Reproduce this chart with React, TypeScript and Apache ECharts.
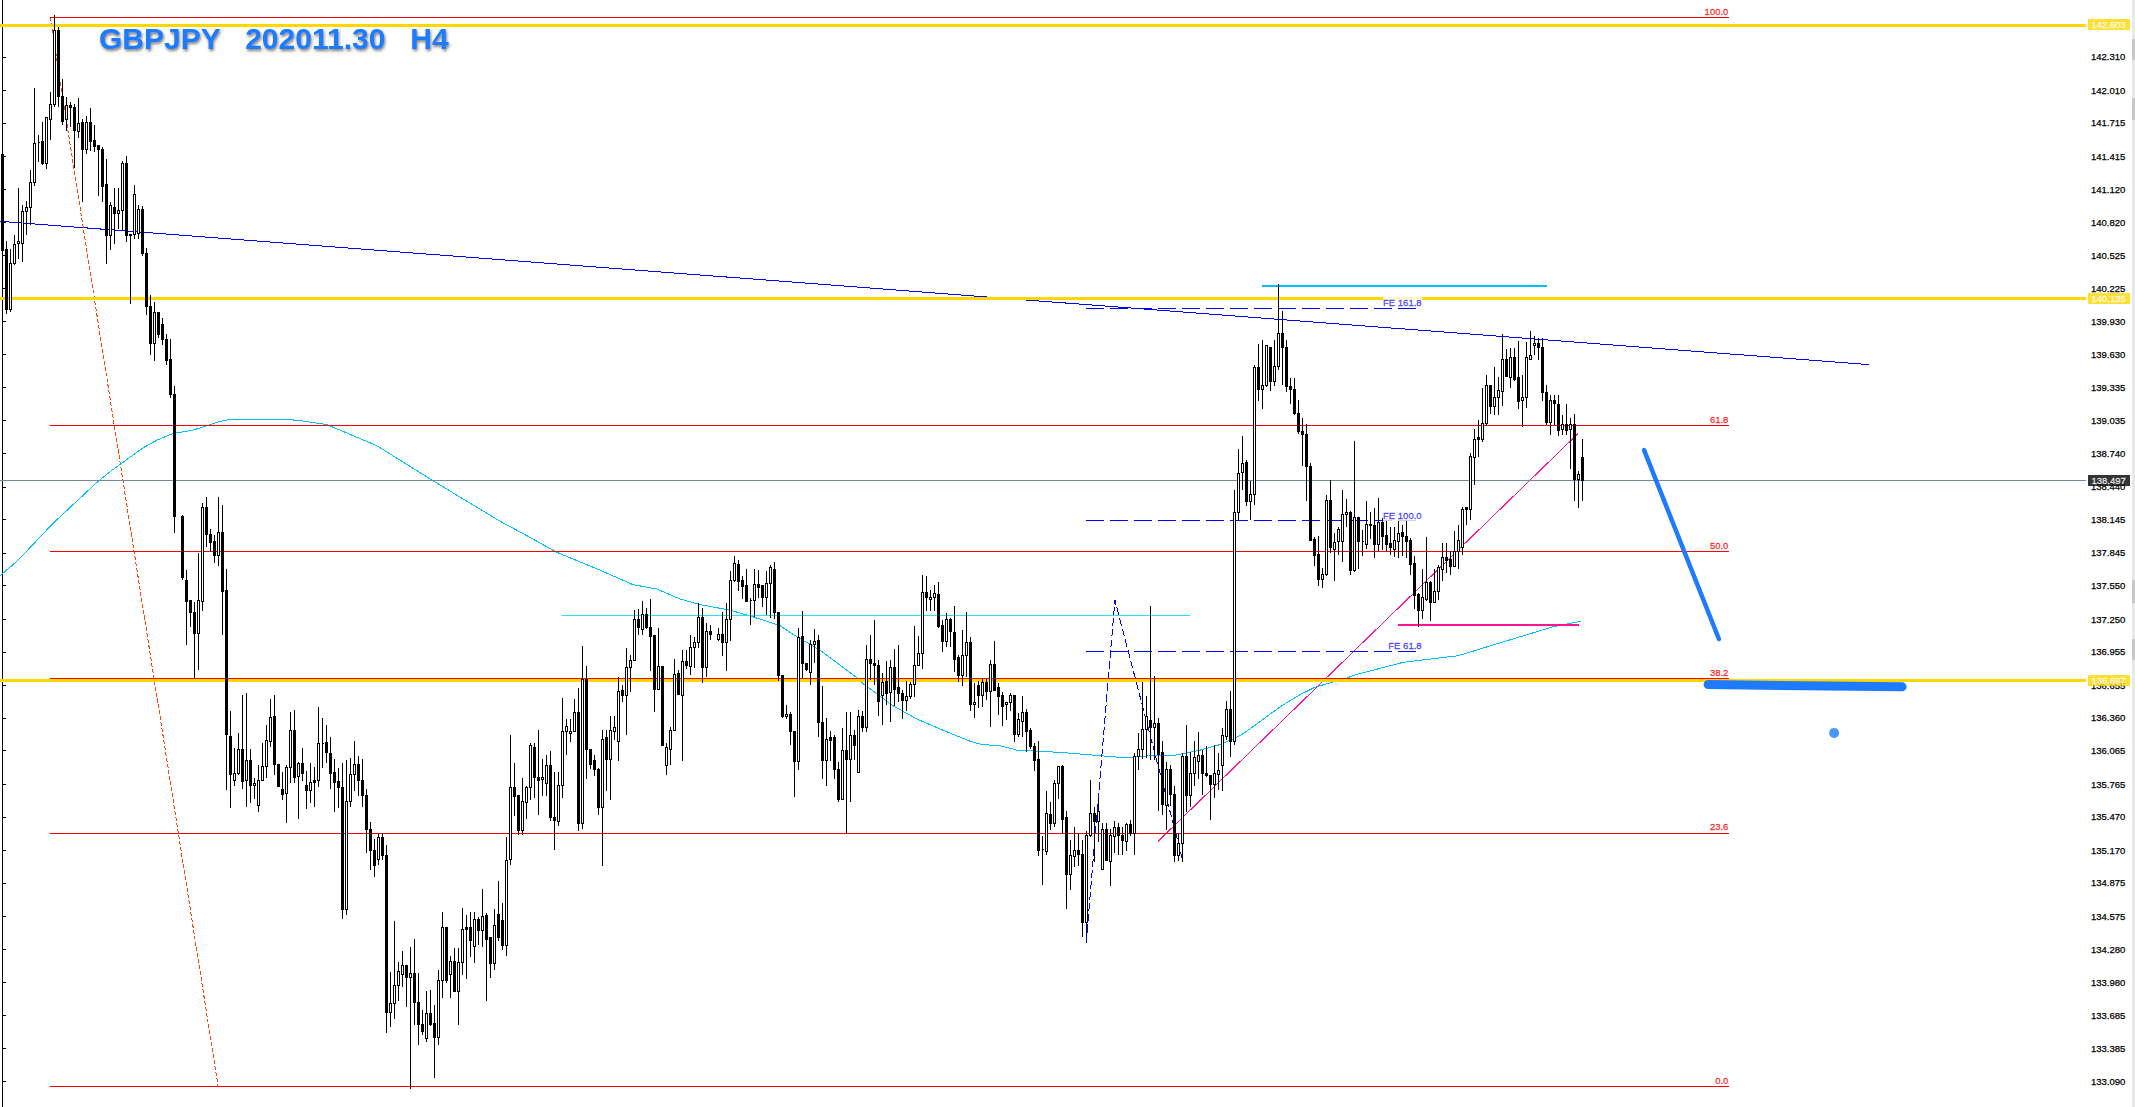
import React, { useEffect, useRef } from "react";
import * as echarts from "echarts";

type Bar = [number, number, number, number] | null; // open, close, low, high

const barsA: Bar[] = [
[141.43,140.57,140.53,141.47],[140.58,140.04,140.00,140.65],[140.04,140.45,140.01,140.58],[140.45,140.62,140.44,140.71],[140.63,140.65,140.49,141.13],
[140.63,140.92,140.46,140.98],[140.92,140.95,140.71,141.01],[140.95,141.18,140.80,141.29],[141.18,141.53,141.15,142.03],[141.54,141.54,141.36,141.61],
[141.55,141.35,141.34,141.72],[141.35,141.76,141.30,141.77],[141.75,141.88,141.56,141.99],[141.88,142.55,141.86,142.69],[142.55,141.95,141.86,142.58],
[141.95,141.73,141.70,142.11],[141.75,141.87,141.64,141.95],[141.87,141.85,141.68,141.90],[141.85,141.65,141.31,141.89],[141.64,141.71,141.58,141.94],
[141.72,141.48,141.00,141.75],[141.48,141.72,141.44,141.78],[141.72,141.55,141.46,141.85],[141.56,141.50,141.45,141.70],[141.51,141.48,141.06,141.52],
[141.48,141.14,141.00,141.50],[141.16,140.70,140.45,141.39],[140.70,140.97,140.57,141.00],[140.95,140.90,140.63,141.13],[140.90,140.93,140.76,141.13],
[140.93,141.35,140.75,141.37],[141.35,140.70,140.64,141.42],[140.71,140.70,140.09,140.71],[140.71,141.07,140.67,141.16],[140.72,140.94,140.67,140.98],
[140.94,140.54,140.52,140.97],[140.54,140.06,139.99,140.59],[140.06,139.73,139.63,140.17],[139.73,140.01,139.57,140.10],[140.01,139.81,139.78,140.01],
[139.90,139.77,139.72,139.96],[139.77,139.58,139.54,139.82],[139.59,139.27,139.24,139.77],[139.27,138.17,138.02,139.35],null,
[138.17,137.62,137.60,138.19],[137.60,137.41,137.02,137.69],[137.42,137.31,137.18,137.42],[137.31,137.12,136.72,137.40],[137.12,137.42,136.79,137.84],
];
const barsB: Bar[] = [
[137.41,138.25,137.32,138.29],[138.25,138.01,137.90,138.35],[138.01,137.94,137.85,138.06],[137.95,137.82,137.75,138.01],[137.82,138.03,137.73,138.35],
[138.03,137.50,137.11,138.28],[137.51,136.21,135.71,137.70],[136.19,135.85,135.55,136.42],[135.80,135.86,135.75,136.09],[135.86,136.08,135.85,136.22],
[136.08,135.79,135.72,136.57],[135.80,135.98,135.56,136.58],[135.98,135.75,135.59,136.08],[135.75,135.77,135.63,135.82],[135.57,135.80,135.51,135.94],
[135.80,135.92,135.79,136.13],[135.92,136.16,135.82,136.30],[136.15,136.36,136.10,136.53],[136.37,135.94,135.85,136.57],[135.94,135.74,135.74,135.94],
[135.72,135.67,135.62,135.87],[135.68,135.91,135.41,135.94],[135.91,136.25,135.77,136.41],[136.25,135.82,135.77,136.43],[135.83,135.95,135.45,135.96],
[135.95,135.86,135.79,136.09],[135.75,135.71,135.54,135.88],[135.71,135.78,135.59,135.95],[135.80,135.78,135.56,135.92],[135.80,136.13,135.74,136.46],
[136.13,136.13,135.91,136.36],[136.14,136.05,135.95,136.30],[136.04,135.86,135.72,136.19],[135.87,135.78,135.51,135.99],[135.79,135.73,135.55,135.91],
[135.73,134.64,134.55,135.95],[134.64,135.61,134.59,135.98],[135.61,135.85,135.56,136.00],[135.85,135.94,135.70,136.15],[135.94,135.80,135.66,136.02],
[135.80,135.66,135.56,135.99],[135.66,135.36,135.14,135.72],[135.36,135.17,134.99,135.42],[135.17,135.03,134.93,135.27],[135.09,135.28,135.04,135.32],
[135.28,135.12,135.08,135.32],[135.12,133.71,133.52,135.22],[133.71,133.79,133.58,134.07],[133.79,133.95,133.65,134.53],[133.95,134.08,133.81,134.16],
];
const barsC: Bar[] = [
[134.05,134.13,133.94,134.26],[134.13,134.02,133.76,134.13],[134.02,134.06,133.02,134.30],[134.06,133.80,133.60,134.37],[133.80,133.60,133.42,134.06],
[133.60,133.54,133.51,133.73],[133.47,133.70,133.44,133.90],[133.70,133.60,133.59,133.91],[133.61,133.48,133.12,133.78],[133.48,134.00,133.42,134.09],
[134.00,134.47,133.84,134.61],[134.47,134.00,133.97,134.48],[134.05,134.17,133.84,134.22],[134.17,133.90,133.89,134.29],[133.90,134.16,133.60,134.29],
[134.16,134.46,134.05,134.65],[134.47,134.46,134.01,134.59],[134.47,134.36,134.21,134.61],[134.30,134.55,134.15,134.61],[134.55,134.45,134.32,134.57],
[134.45,134.57,134.30,134.82],[134.58,134.37,133.81,134.60],[134.38,134.15,134.02,134.38],[134.15,134.49,134.09,134.64],[134.59,134.38,134.35,134.89],
[134.54,134.31,134.27,134.69],[134.31,135.08,134.22,135.29],[135.09,135.73,135.04,136.21],[135.73,135.65,135.48,135.95],[135.66,135.35,135.31,135.67],
[135.35,135.61,135.31,135.82],[135.60,135.73,135.45,135.75],[135.73,136.11,135.62,136.13],[136.09,135.82,135.64,136.13],[135.82,135.80,135.49,136.25],
[135.81,135.82,135.66,135.99],[135.77,135.93,135.66,136.03],[135.93,135.46,135.43,136.06],[135.46,135.44,135.17,135.87],[135.43,135.75,135.39,135.87],
[135.75,136.24,135.64,136.54],[136.24,136.28,136.03,136.35],[136.22,136.24,136.14,136.35],[136.24,136.41,136.24,136.53],[136.41,135.41,135.34,136.63],
[135.41,136.71,135.36,137.01],[136.71,136.08,135.81,136.83],[136.08,135.94,135.90,136.08],[135.98,135.90,135.84,136.03],[135.90,135.55,135.49,135.91],
];
const barsD: Bar[] = [
[135.55,136.17,135.03,136.25],[136.18,135.99,135.70,136.25],[135.99,136.25,135.62,136.38],[136.24,136.27,136.16,136.38],[136.15,136.60,135.97,136.73],
[136.61,136.56,136.50,136.66],[136.56,136.81,136.21,136.99],[136.81,136.88,136.59,136.93],[136.88,137.25,136.87,137.33],[137.25,137.17,137.11,137.34],
[137.16,137.29,137.11,137.41],[137.29,137.17,137.16,137.35],[137.17,137.09,136.78,137.43],[137.10,136.62,136.41,137.11],[136.62,136.82,136.62,137.17],
[136.82,136.11,136.11,136.82],[135.93,136.09,135.85,136.13],[136.08,136.25,135.94,136.28],[136.25,136.75,136.24,136.89],[136.76,136.57,136.57,136.79],
[136.56,136.87,135.97,136.97],[136.87,136.83,136.80,136.97],[136.82,136.99,136.75,137.11],[136.99,137.04,136.81,137.09],[137.04,137.26,136.99,137.39],
[137.26,136.81,136.67,137.35],[136.81,137.14,136.73,137.21],[137.14,137.11,137.06,137.20],null,[137.07,137.11,137.05,137.17],
[137.11,137.04,136.92,137.31],[137.04,137.25,136.78,137.39],[137.25,137.60,137.05,137.68],[137.60,137.75,137.58,137.82],[137.74,137.59,137.50,137.78],
[137.60,137.54,137.43,137.64],[137.55,137.41,137.40,137.70],[137.42,137.42,137.20,137.44],[137.42,137.56,137.27,137.70],[137.56,137.53,137.44,137.69],
[137.55,137.44,137.36,137.55],[137.44,137.57,137.29,137.68],[137.57,137.71,137.26,137.74],[137.70,137.31,137.25,137.76],[137.31,136.74,136.69,137.31],
[136.74,136.37,136.36,136.74],[136.37,136.39,136.35,136.48],[136.39,136.24,136.12,136.41],[136.24,135.97,135.65,136.24],[135.97,137.08,135.89,137.17],
];
const barsE: Bar[] = [
[137.09,136.85,136.72,137.32],[136.85,136.80,136.78,136.85],[136.77,137.02,136.66,137.06],[137.02,137.05,136.85,137.16],[137.06,136.32,136.19,137.11],
[136.32,135.98,135.81,136.65],[135.98,136.17,135.75,136.36],[136.18,136.16,135.97,136.24],[136.18,135.90,135.81,136.21],[135.90,135.63,135.60,135.96],
[135.63,136.07,135.62,136.27],[136.07,135.99,135.32,136.41],[135.99,136.20,135.60,136.41],[136.20,136.11,135.98,136.25],[135.87,136.37,135.87,136.43],
[136.37,136.27,136.23,136.42],[136.27,136.89,136.23,137.02],[136.89,136.85,136.70,137.11],[136.85,136.83,136.66,137.24],[136.83,136.51,136.38,136.88],
[136.56,136.68,136.30,136.76],[136.69,136.58,136.48,136.87],[136.59,136.81,136.32,136.88],[136.81,136.62,136.47,136.98],[136.63,136.58,136.50,137.02],
[136.58,136.52,136.35,136.61],[136.52,136.55,136.42,136.69],[136.55,136.66,136.53,136.68],[136.66,136.83,136.55,137.19],[136.83,136.94,136.83,137.10],
[136.94,137.49,136.80,137.65],[137.49,137.44,137.32,137.64],[137.43,137.44,137.32,137.51],[137.44,137.48,137.32,137.56],[137.47,137.18,137.17,137.58],
[137.19,137.05,136.95,137.24],[137.05,137.25,137.00,137.30],[137.25,137.14,137.00,137.26],[137.13,136.89,136.77,137.37],[136.90,136.74,136.68,136.93],
[136.74,136.92,136.65,137.15],[136.92,137.04,136.73,137.31],[137.04,136.48,136.42,137.09],[136.48,136.50,136.36,136.67],[136.65,136.56,136.45,136.69],
[136.56,136.68,136.46,136.72],[136.68,136.60,136.52,136.71],[136.60,136.84,136.28,136.88],[136.84,136.61,136.60,137.05],[136.63,136.55,136.39,136.67],
];
const barsF: Bar[] = [
[136.56,136.46,136.29,136.59],[136.48,136.50,136.34,136.50],[136.50,136.56,136.42,136.58],[136.56,136.21,136.14,136.56],[136.21,136.35,136.19,136.40],
[136.33,136.41,136.19,136.56],[136.41,136.24,136.05,136.44],[136.25,136.10,136.08,136.27],[136.10,135.98,135.88,136.13],[135.99,135.17,135.12,136.15],
[135.18,135.18,134.86,135.30],[135.16,135.50,135.13,135.70],[135.49,135.41,135.35,135.60],[135.41,135.77,135.38,135.80],[135.77,135.92,135.63,135.92],
[135.92,135.45,135.32,135.94],[135.46,134.95,134.64,135.52],[134.95,135.12,134.81,135.26],[135.11,135.17,135.02,135.38],[135.17,135.13,135.03,135.32],
[135.13,134.52,134.39,135.26],[134.52,135.30,134.41,135.34],[135.30,135.50,135.29,135.80],[135.50,135.43,135.06,135.56],[135.43,135.52,135.24,135.64],
[135.00,135.36,134.99,135.41],[135.36,135.08,135.07,135.41],[135.07,135.30,134.85,135.36],[135.29,135.37,135.14,135.43],[135.37,135.30,135.13,135.41],
[135.30,135.26,135.13,135.38],[135.25,135.40,135.16,135.41],[135.40,135.32,135.30,135.44],[135.32,136.01,135.13,136.04],[136.01,136.08,135.89,136.22],
[136.08,136.26,135.99,136.68],[136.26,136.37,136.00,136.56],[136.34,136.27,135.98,137.37],[136.27,136.31,135.98,136.74],[136.31,136.03,135.52,136.36],
[136.05,135.58,135.49,136.15],[135.57,135.90,135.35,135.96],[135.90,135.67,135.57,135.94],[135.67,135.12,135.06,135.75],[135.12,135.23,135.07,135.32],
[135.23,136.01,135.06,136.04],[136.01,135.66,135.51,136.30],[135.66,135.86,135.56,136.05],[135.86,136.00,135.75,136.15],[135.97,136.02,135.81,136.23],
];
const barsG: Bar[] = [
[136.02,135.86,135.67,136.07],[135.86,135.84,135.83,136.11],[135.84,135.76,135.44,135.84],[135.76,135.86,135.64,136.12],[135.85,135.89,135.71,136.04],
[135.93,136.20,135.70,136.27],[136.19,136.44,136.16,136.51],[136.44,136.15,136.01,136.60],[136.15,138.21,136.12,138.41],[138.21,138.56,138.14,138.78],
[138.57,138.65,138.41,138.90],[138.66,138.31,138.27,138.68],[138.31,138.37,138.14,138.49],[138.37,139.51,138.28,139.54],[139.51,139.32,139.21,139.73],
[139.32,139.35,139.14,139.76],[139.35,139.71,139.34,139.72],[139.69,139.39,139.30,139.69],[139.39,139.52,139.35,139.76],[139.52,139.82,139.49,140.27],
[139.82,139.69,139.36,140.02],[139.69,139.34,139.29,139.76],[139.34,139.32,139.19,139.42],[139.32,139.10,139.09,139.42],[139.10,138.94,138.92,139.22],
[138.94,138.91,138.63,139.06],[138.91,138.62,138.31,139.01],[138.62,137.96,137.95,138.65],[137.97,137.82,137.73,137.99],[137.83,137.61,137.55,138.00],
[137.61,137.65,137.53,137.71],[137.65,138.32,137.64,138.37],[138.32,137.89,137.84,138.50],[137.88,137.94,137.59,138.02],[137.95,138.06,137.83,138.08],
[137.95,138.19,137.76,138.41],[138.19,138.21,138.08,138.33],[138.21,137.69,137.65,138.22],[137.69,138.16,137.67,138.85],[138.16,137.95,137.70,138.17],
[137.95,137.95,137.82,138.05],[137.92,138.10,137.88,138.31],[138.10,138.09,137.97,138.21],[138.09,137.92,137.80,138.25],[137.92,138.12,137.86,138.34],
[138.12,137.99,137.87,138.16],[138.00,137.92,137.86,138.16],[137.93,137.89,137.83,138.08],[137.88,137.96,137.81,138.08],[137.95,138.02,137.80,138.16],
];
const barsH: Bar[] = [
[138.03,137.99,137.82,138.10],[137.99,137.95,137.80,138.15],[137.96,137.74,137.65,137.98],[137.75,137.46,137.34,137.82],[137.47,137.33,137.18,137.48],
[137.33,137.44,137.25,137.70],[137.43,137.58,137.41,137.99],[137.58,137.40,137.23,137.59],[137.40,137.50,137.39,137.70],[137.50,137.71,137.42,137.74],
[137.70,137.80,137.59,137.93],[137.80,137.78,137.66,137.93],[137.79,137.72,137.65,137.86],[137.72,137.86,137.72,138.04],[137.86,137.96,137.70,138.10],
[137.89,138.24,137.83,138.26],[138.25,138.24,138.10,138.25],[138.24,138.71,138.14,138.74],[138.70,138.87,138.46,138.96],[138.88,138.87,138.71,139.04],
[138.87,139.01,138.84,139.33],[139.01,139.35,138.99,139.45],[139.35,139.16,139.10,139.36],[139.16,139.24,139.09,139.52],[139.24,139.31,139.09,139.43],
[139.30,139.59,139.17,139.82],[139.59,139.43,139.43,139.68],[139.42,139.60,139.33,139.69],[139.60,139.41,139.39,139.69],[139.42,139.21,139.14,139.75],
[139.22,139.24,138.98,139.45],[139.24,139.60,139.15,139.74],[139.59,139.62,139.59,139.84],[139.71,139.73,139.63,139.80],[139.73,139.69,139.58,139.78],
[139.69,139.29,139.21,139.78],[139.29,139.02,139.00,139.36],[139.02,139.22,138.91,139.27],[139.22,139.19,139.00,139.27],[139.18,138.95,138.90,139.27],
[138.96,139.00,138.91,139.09],[139.00,138.95,138.91,139.19],[138.96,139.00,138.60,139.06],[139.00,138.51,138.31,139.10],[138.51,138.55,138.25,138.58],
[138.70,138.497,138.31,138.87],
];

const maBars = [-0.6,3.9,12.6,23.9,27.4,35.1,38.6,42.6,47.6,51.1,54.4,57.6,67.6,73.6,81.1,93.6,107.4,124.4,130.1,138.6,149.4,157.6,163.6,169.4,174.4,181.9,187.6,194.4,198.6,204.4,213.6,215.1,222.6,228.6,235.1,241.9,244.9,249.4,253.6,264.4,274.4,281.1,286.9,292.6,299.4,304.4,309.4,312.6,319.4,324.4,328.4,335.4,338.4,350.1,363.9,373.9,387.6,394.6];
const maPrices = [137.64,137.78,138.11,138.49,138.59,138.79,138.86,138.92,138.95,138.99,139.03,139.05,139.05,139.04,139.00,138.81,138.50,138.13,138.02,137.85,137.69,137.56,137.52,137.43,137.38,137.33,137.27,137.19,137.09,136.97,136.72,136.67,136.47,136.35,136.25,136.15,136.12,136.11,136.07,136.05,136.02,136.00,136.02,136.02,136.07,136.12,136.20,136.28,136.46,136.57,136.64,136.71,136.75,136.86,136.92,137.03,137.18,137.23];

const tickLabels = [142.31,142.01,141.715,141.415,141.12,140.82,140.525,140.225,139.93,139.63,139.335,139.035,138.74,138.44,138.145,137.845,137.55,137.25,136.955,136.655,136.36,136.065,135.765,135.47,135.17,134.875,134.575,134.28,133.98,133.685,133.385,133.09];
const yellowTags = [142.603,140.135,136.697];
const yellowLines = [142.5935,140.135,136.697];
const lastPrice = 138.497;
const fibLevels: [string, number, number][] = [["100.0",142.6644,142.72],["61.8",138.992,139.05],["50.0",137.8579,137.91],["38.2",136.7148,136.77],["23.6",135.3197,135.38],["0.0",133.0424,133.10]];
const feLevels: [string, number, number][] = [["FE 161.8",140.0451,140.10],["FE 100.0",138.1369,138.18],["FE 61.8",136.9578,137.01]];
const title = "GBPJPY   202011.30   H4";

const Y_MIN = 132.8579, Y_MAX = 142.8219, X_MIN = -0.625, X_MAX = 520.875;
const BLUE = "#1E7BFF";

function seg(name: string, xs: number[], ys: number[], color: string, width: number, z: number, extra: any = {}) {
  return {
    type: "line", name, silent: true, z, showSymbol: false, symbol: "none", clip: false,
    data: xs.map((x, i) => [x, ys[i]]),
    lineStyle: { color, width, ...extra },
  };
}

const crisp = `#chart svg path:not([stroke="${BLUE}"]):not([fill="${BLUE}"]) { shape-rendering: crispEdges; }`;

export default function App() {
  const ref = useRef<HTMLDivElement>(null);
  useEffect(() => {
    const chart = echarts.init(ref.current!, undefined, { renderer: "svg" });
    const all = [...barsA, ...barsB, ...barsC, ...barsD, ...barsE, ...barsF, ...barsG, ...barsH];
    const candles: number[][] = [];
    all.forEach((b, i) => { if (b) candles.push([i, b[0], b[1], b[2], b[3]]); });

    const textFont = { fontFamily: "Liberation Sans", fontSize: 9.5, textBorderWidth: 0.3 };
    const series: any[] = [
      seg("trend", [-0.6, 466.6], [140.83, 139.54], "#0000FF", 1, 1),
      seg("retrace", [11.9, 53.9], [142.67, 133.045], "#FF4500", 1, 1, { type: [4, 2] }),
      seg("MA", maBars, maPrices, "#00BFFF", 1, 1),
      seg("resistance", [139.9, 296.9], [137.2819, 137.2819], "#1FE6F5", 1, 1),
      seg("top", [314.9, 386.1], [140.25, 140.25], "#00BFFF", 2, 2),
      seg("support", [348.9, 394.1], [137.2, 137.2], "#FF1493", 2, 2),
      seg("pinkTrend", [288.9, 393.9], [135.25, 138.92], "#FF1493", 1, 1),
      seg("fe", [270.9, 278.1, 294.9], [134.33, 137.42, 135.1], "#0000FF", 1, 1, { type: [8, 3] }),
      ...feLevels.map(([n, p]) => seg(n, [270.9, 353.4], [p, p], "#0000FF", 1, 1, { type: [18, 6] })),
      ...yellowLines.map((p) => seg("y" + p, [X_MIN, X_MAX], [p, p], "#FFD700", 3, 2)),
      seg("last", [X_MIN, X_MAX], [lastPrice, lastPrice], "#778899", 1, 1),
      ...fibLevels.map(([n, p]) => seg("fib" + n, [11.9, 431.6], [p, p], "#FF0000", 1, 3)),
      {
        type: "candlestick", z: 5, silent: true, barWidth: 2, data: candles,
        encode: { x: 0, y: [1, 2, 3, 4] },
        itemStyle: { color: "#fff", color0: "#000", borderColor: "#000", borderColor0: "#000", borderWidth: 1 },
      },
      seg("handDown", [410.4, 429.1], [138.77, 137.07], BLUE, 4.5, 10, { cap: "round" }),
      seg("handFlat", [426.4, 474.9], [136.66, 136.64], BLUE, 9, 10, { cap: "round" }),
      {
        type: "scatter", z: 10, silent: true, symbol: "circle", symbolSize: 10, data: [[457.9, 136.225]],
        itemStyle: { color: BLUE },
      },
      {
        type: "scatter", z: 8, silent: true, symbolSize: 1, itemStyle: { color: "transparent" },
        data: fibLevels.map(([n, , ly]) => ({
          value: [431.6, ly],
          label: { show: true, position: "left", distance: 0, formatter: n, color: "#FF0000", textBorderColor: "#FF0000", ...textFont },
        })).concat(feLevels.map(([n, , ly]) => ({
          value: [354.9, ly],
          label: { show: true, position: "left", distance: 0, formatter: n, color: "#2A1FFF", textBorderColor: "#2A1FFF", backgroundColor: "#fff", ...textFont } as any,
        }))),
      },
      {
        type: "scatter", z: 9, silent: true, symbolSize: 1, itemStyle: { color: "transparent" },
        data: [...yellowTags, lastPrice].map((p) => ({
          value: [X_MAX, p],
          label: {
            show: true, position: "right", distance: 1, formatter: p.toFixed(3), color: "#fff", textBorderColor: "#fff",
            backgroundColor: p === lastPrice ? "#000" : "#FFD700", padding: [1, 4, 1, 4], lineHeight: 9, ...textFont,
          },
        })),
      },
    ];

    const strip = (y: number, h: number, fill: string) => ({
      type: "rect", left: 2132, top: y, silent: true, shape: { width: 3, height: h }, style: { fill },
    });

    chart.setOption({
      animation: false,
      backgroundColor: "#fff",
      title: {
        text: title, left: 94, top: 18,
        textStyle: {
          color: BLUE, fontFamily: "Liberation Sans", fontWeight: "bold", fontSize: 30,
          textShadowColor: "rgba(80,80,80,0.75)", textShadowBlur: 3, textShadowOffsetX: 1, textShadowOffsetY: 2,
        },
      },
      grid: { left: 0, right: 49, top: 0, bottom: 0 },
      xAxis: { type: "value", min: X_MIN, max: X_MAX, show: false, splitLine: { show: false } },
      yAxis: {
        type: "value", position: "right", min: Y_MIN, max: Y_MAX, scale: true,
        splitLine: { show: false },
        axisLine: { show: true, lineStyle: { color: "#000", width: 1 } },
        axisTick: { show: true, length: 3, inside: false, lineStyle: { color: "#000" }, customValues: tickLabels },
        axisLabel: {
          margin: 5, color: "#000", fontFamily: "Liberation Sans", fontSize: 9.5,
          textBorderColor: "#000", textBorderWidth: 0.25,
          customValues: tickLabels, formatter: (v: number) => v.toFixed(3),
        },
      },
      graphic: [
        strip(0, 1107, "#E8E8E8"),
        strip(39, 21, "#C8C8C8"), strip(98, 22, "#C8C8C8"),
        strip(580, 23, "#C8C8C8"), strip(639, 21, "#C8C8C8"),
      ],
      series,
    });
    return () => chart.dispose();
  }, []);
  return (
    <>
      <style>{crisp}</style>
      <div id="chart" ref={ref} style={{ position: "fixed", left: 0, top: 0, width: 2135, height: 1107 }} />
    </>
  );
}
